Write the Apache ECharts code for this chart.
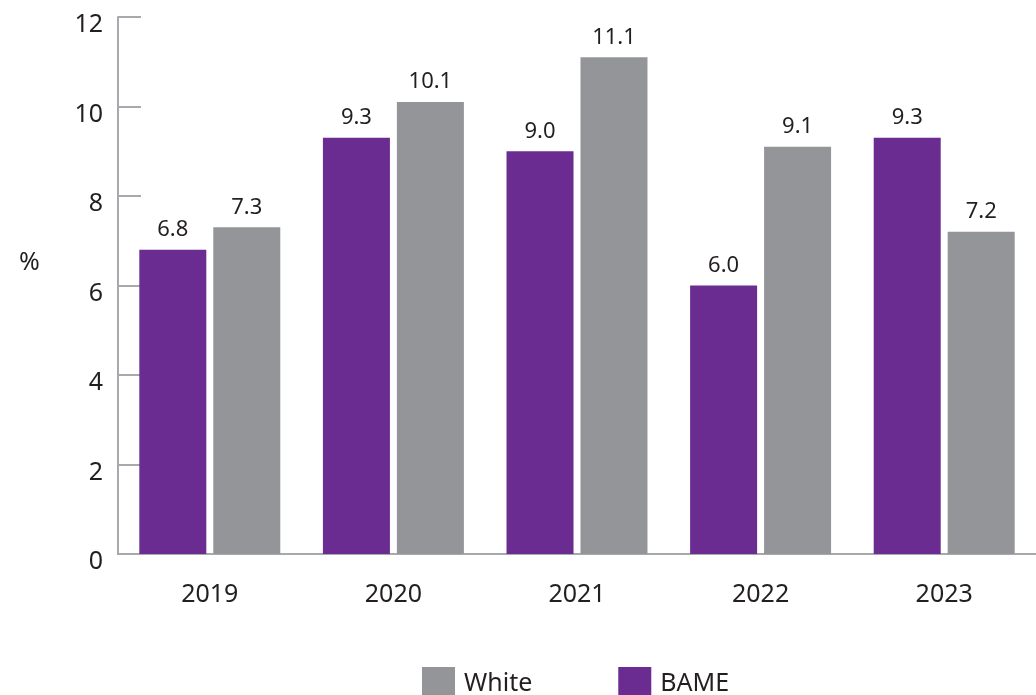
<!DOCTYPE html>
<html>
<head>
<meta charset="utf-8">
<script src="https://cdn.jsdelivr.net/npm/echarts@6/dist/echarts.min.js"></script>
<style>
  html, body { margin: 0; padding: 0; background: #fff; }
  #chart { width: 1036px; height: 695px; }
</style>
</head>
<body>
<div id="chart"></div>
<script>
const years = ['2019', '2020', '2021', '2022', '2023'];
const bame = [6.8, 9.3, 9.0, 6.0, 9.3];
const white = [7.3, 10.1, 11.1, 9.1, 7.2];

const FONT = '"Noto Sans", "Open Sans", sans-serif';
const TEXT = '#231f20';
const AXIS = '#a7a9ac';
const PURPLE = '#6a2c91';
const GREY = '#939598';

const valueLabel = {
  show: true,
  position: 'top',
  distance: 9,
  fontFamily: FONT,
  fontSize: 22,
  color: TEXT,
  formatter: p => p.value.toFixed(1)
};

const chart = echarts.init(document.getElementById('chart'));
chart.setOption({
  animation: false,
  // plot area runs a little past the right edge of the canvas
  grid: { left: 118, width: 921, top: 17, bottom: 141, containLabel: false },
  legend: {
    data: ['White', 'BAME'],
    left: 417,
    top: 662,
    icon: 'rect',
    itemWidth: 33,
    itemHeight: 33,
    itemGap: 86,
    textStyle: { fontFamily: FONT, fontSize: 25, color: TEXT, padding: [0, 0, 0, 4] }
  },
  graphic: [{
    type: 'text',
    left: 19,
    top: 250,
    style: { text: '%', font: '25px ' + FONT, fill: TEXT }
  }],
  xAxis: {
    type: 'category',
    data: years,
    axisLine: { lineStyle: { color: AXIS, width: 2 } },
    axisTick: { inside: true, length: 12, lineStyle: { color: AXIS, width: 2 } },
    axisLabel: { fontFamily: FONT, fontSize: 25, color: TEXT, margin: 28 }
  },
  yAxis: {
    type: 'value',
    min: 0,
    max: 12,
    interval: 2,
    splitLine: { show: false },
    axisLine: { show: true, lineStyle: { color: AXIS, width: 2 } },
    axisTick: { show: true, inside: true, length: 23, lineStyle: { color: AXIS, width: 2 } },
    axisLabel: {
      fontFamily: FONT, fontSize: 25, color: TEXT, margin: 15,
      verticalAlign: 'top', lineHeight: 16
    }
  },
  series: [
    {
      name: 'BAME',
      type: 'bar',
      data: bame,
      barWidth: 67,
      barGap: '10.4%',
      itemStyle: { color: PURPLE },
      label: valueLabel
    },
    {
      name: 'White',
      type: 'bar',
      data: white,
      barWidth: 67,
      barGap: '10.4%',
      itemStyle: { color: GREY },
      label: valueLabel
    }
  ]
});
</script>
</body>
</html>
